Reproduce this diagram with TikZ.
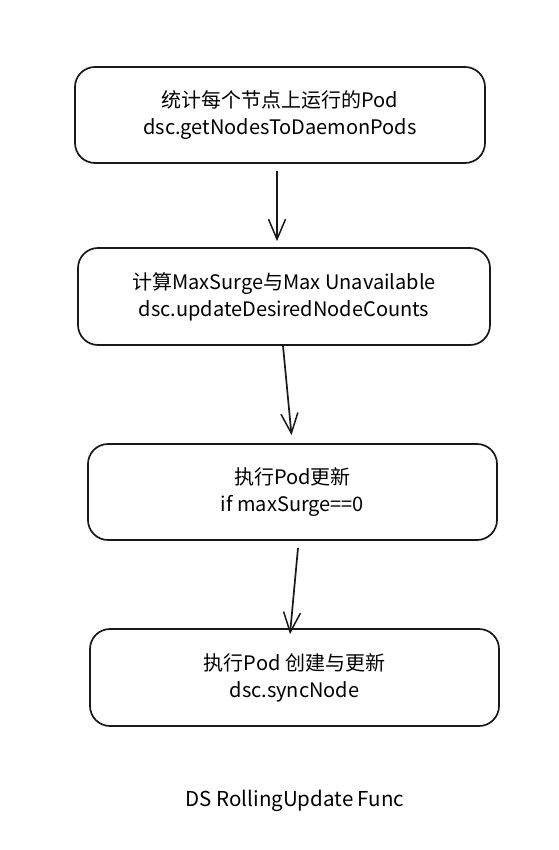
\documentclass[tikz,border=0pt]{standalone}
\usepackage{fontspec}
\newfontfamily\cjk{Noto Sans CJK SC}
\usetikzlibrary{arrows.meta,calc}
\begin{document}
\begin{tikzpicture}[x=1pt,y=-1pt,
  stepbox/.style={draw=black!90,line width=1.7pt,rounded corners=20pt,align=center,
    font=\cjk\fontsize{20}{27}\selectfont,inner sep=0pt},
  flow/.style={draw=black!90,line width=1.7pt,-{Straight Barb[length=20pt,width=17pt,line width=1.5pt]}},
  caption/.style={font=\cjk\fontsize{20.5}{24}\selectfont}]
\useasboundingbox[fill=white] (0,0) rectangle (558,850);
\node[stepbox,minimum width=410pt,minimum height=96pt] (b1) at (280,115) {统计每个节点上运行的Pod\\dsc.getNodesToDaemonPods};
\node[stepbox,minimum width=412pt,minimum height=97pt] (b2) at (284,296.5) {计算MaxSurge与Max Unavailable\\dsc.updateDesiredNodeCounts};
\node[stepbox,minimum width=409pt,minimum height=96pt] (b3) at (292.5,492) {执行Pod更新\\if maxSurge==0};
\node[stepbox,minimum width=409pt,minimum height=97pt] (b4) at (294.5,677.5) {执行Pod 创建与更新\\dsc.syncNode};
\node[caption] (cap) at (295,801) {DS RollingUpdate Func};
\coordinate (a1s) at ($(b1.south)+(-3,7)$);
\coordinate (a1e) at ($(b2.north)+(-7,-6)$);
\coordinate (a2s) at ($(b2.south)+(-1,0)$);
\coordinate (a2e) at ($(b3.north)+(-1,-8)$);
\coordinate (a3s) at ($(b3.south)+(5.5,7)$);
\coordinate (a3e) at ($(b4.north)+(-4.5,6)$);
\draw[flow] (a1s) -- (a1e);
\draw[flow] (a2s) -- (a2e);
\draw[flow] (a3s) -- (a3e);
\end{tikzpicture}
\end{document}
